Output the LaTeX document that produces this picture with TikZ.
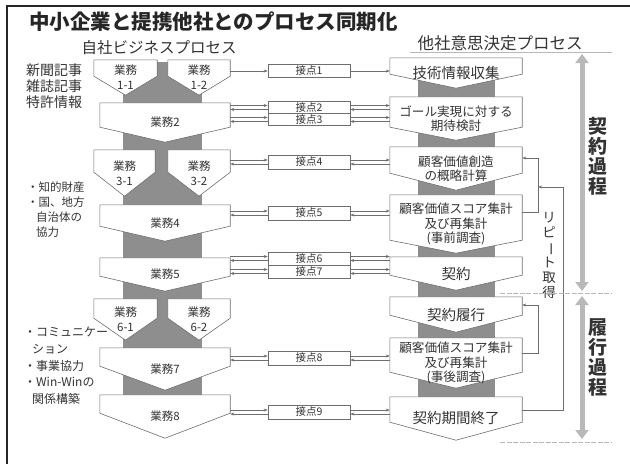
\documentclass[tikz,border=0pt]{standalone}
\usepackage{fontspec}
\usepackage{graphicx}
\setmainfont{Noto Sans CJK JP}
\usetikzlibrary{arrows.meta}
\pgfdeclarelayer{spinelayer}
\pgfdeclarelayer{shapelayer}
\pgfsetlayers{spinelayer,shapelayer,main}
\definecolor{ink}{HTML}{333333}
\definecolor{edge}{HTML}{6E6E6E}
\definecolor{spinegray}{HTML}{8E8E8E}
\definecolor{tlgray}{HTML}{B8B8B8}
\newcommand{\myfs}[2]{\fontsize{#1}{#2}\selectfont}
% [style]{name}{xl}{xr}{ytop}{yside}{ypoint}{text}
\newcommand{\pentbox}[8][]{%
  \pgfmathsetmacro\mybw{#4-#3}%
  \pgfmathsetmacro\mybh{#7-#5}%
  \pgfmathsetmacro\mybd{#7-#6}%
  \node[boxtext, minimum width=\mybw pt, minimum height=\mybh pt, #1] (#2) at ({(#3+#4)/2},{(#5+#7)/2}) {#8};
  \begin{pgfonlayer}{shapelayer}
    \draw[boxshape] (#2.north west) -- (#2.north east) -- ([yshift=\mybd pt]#2.south east) -- (#2.south) -- ([yshift=\mybd pt]#2.south west) -- cycle;
  \end{pgfonlayer}}
% left, mid, right, y
\newcommand{\linkpair}[4]{%
  \draw[arr] (#1.east |- 0,#4-2) -- (#2.west |- 0,#4-2);
  \draw[arr] (#2.west |- 0,#4+2) -- (#1.east |- 0,#4+2);
  \draw[arr] (#2.east |- 0,#4-2) -- (#3.west |- 0,#4-2);
  \draw[arr] (#3.west |- 0,#4+2) -- (#2.east |- 0,#4+2);}
\tikzset{
  boxtext/.style={inner sep=0pt, align=center, text=ink, font=\myfs{11.5}{15}},
  rtext/.style={font=\myfs{12.6}{14.5}},
  rbig/.style={font=\myfs{14.5}{16}},
  boxshape/.style={draw=edge, line width=0.6pt, fill=white},
  tp/.style={draw=edge, fill=white, line width=0.6pt, minimum width=82pt, inner sep=0pt, font=\myfs{10.5}{12}, text=ink},
  arr/.style={-{Stealth[length=4pt,width=3pt]}, draw=edge, line width=0.5pt},
  side/.style={anchor=north west, align=left, inner sep=0pt, text=ink},
  tline/.style={draw=tlgray, line width=0.8pt},
  bigarr/.style={draw=tlgray, line width=5pt, {Triangle[width=13pt,length=9pt]}-{Triangle[width=13pt,length=9pt]}},
  vlabel/.style={align=center, inner sep=0pt, text=ink, font=\bfseries\myfs{19}{20}}
}
\begin{document}
\begin{tikzpicture}[x=1pt,y=-1pt]
\useasboundingbox (0,0) rectangle (630,464);
\draw[line width=1.5pt, black!85] (7,464) -- (7,6) -- (630,6);

% titles
\node[anchor=west, inner sep=0pt, font=\bfseries\myfs{20.5}{22}, text=black!85] (title) at (29,22) {中小企業と提携他社とのプロセス同期化};
\node[inner sep=0pt, font=\myfs{15.5}{16}, text=ink] (hleft) at (159,48) {自社ビジネスプロセス};
\node[inner sep=0pt, font=\myfs{16.5}{17}, text=ink] (hright) at (500,43) {他社意思決定プロセス};

% side notes
\node[side, font=\myfs{14}{16}] (note1) at (26,64) {新聞記事\\雑誌記事\\特許情報};
\node[side, font=\myfs{11.5}{15}] (note2) at (27,182) {・知的財産\\・国、地方\\\hspace{9pt}自治体の\\\hspace{9pt}協力};
\node[side, font=\myfs{12}{16.7}] (note3) at (24,327) {・コミュニケー\\\hspace{8pt}ション\\・事業協力\\・Win-Winの\\\hspace{8pt}関係構築};

% spines
\begin{pgfonlayer}{spinelayer}
  \fill[spinegray] (123,62) rectangle (202,396);
  \fill[spinegray] (418,75) rectangle (495,398);
\end{pgfonlayer}

% left process
\pentbox{b11}{94}{157}{60}{76}{95}{業務\\1-1}
\pentbox{b12}{168}{230}{60}{76}{95}{業務\\1-2}
\pentbox{b2}{100}{230}{103}{127}{142}{業務2}
\pentbox{b31}{94}{155}{150}{172}{196}{業務\\3-1}
\pentbox{b32}{168}{230}{150}{172}{196}{業務\\3-2}
\pentbox{b4}{100}{230}{205}{226}{241}{業務4}
\pentbox{b5}{100}{230}{258}{276}{291}{業務5}
\pentbox{b61}{94}{157}{299}{318}{340}{業務\\6-1}
\pentbox{b62}{168}{230}{299}{318}{340}{業務\\6-2}
\pentbox{b7}{100}{230}{348}{366}{390}{業務7}
\pentbox{b8}{100}{230}{395}{413}{438}{業務8}

% right process
\pentbox[rbig]{r1}{390}{522}{58}{74}{88}{技術情報収集}
\pentbox[rtext]{r2}{390}{522}{97}{127}{140}{ゴール実現に対する\\期待検討}
\pentbox[rtext]{r3}{390}{522}{147}{173}{190}{顧客価値創造\\の概略計算}
\pentbox[rtext]{r4}{390}{522}{195}{240}{253}{顧客価値スコア集計\\及び再集計\\(事前調査)}
\pentbox[rbig]{r5}{390}{522}{257}{275}{290}{契約}
\pentbox[rbig]{r6}{390}{522}{297}{315}{332}{契約履行}
\pentbox[rtext]{r7}{390}{522}{338}{372}{388}{顧客価値スコア集計\\及び再集計\\(事後調査)}
\pentbox[rbig]{r8}{390}{522}{397}{422}{440}{契約期間終了}

% contact points
\node[tp, minimum height=13pt] (t1) at (309,71) {接点1};
\node[tp, minimum height=12pt] (t2) at (309,107.5) {接点2};
\node[tp, minimum height=12pt] (t3) at (309,119.5) {接点3};
\node[tp, minimum height=14pt] (t4) at (309,162) {接点4};
\node[tp, minimum height=14pt] (t5) at (309,213) {接点5};
\node[tp, minimum height=13pt] (t6) at (309,258.5) {接点6};
\node[tp, minimum height=13pt] (t7) at (309,271.5) {接点7};
\node[tp, minimum height=14pt] (t8) at (309,358) {接点8};
\node[tp, minimum height=14pt] (t9) at (309,412) {接点9};

% connectors
\draw[arr] (b12.east |- 0,71) -- (t1.west |- 0,71);
\draw[arr] (t1.east |- 0,71) -- (r1.west |- 0,71);
\linkpair{b2}{t2}{r2}{107.5}
\linkpair{b2}{t3}{r2}{119.5}
\linkpair{b32}{t4}{r3}{162}
\linkpair{b4}{t5}{r4}{213}
\linkpair{b5}{t6}{r5}{258.5}
\linkpair{b5}{t7}{r5}{271.5}
\linkpair{b7}{t8}{r7}{358}
\linkpair{b8}{t9}{r8}{412}

% feedback loops
\draw[arr] (r4.east |- 0,212) -- ++(16,0) |- (r3.east |- 0,158);
\draw[arr] (r7.east |- 0,353) -- ++(16,0) |- (r6.east |- 0,305);
\coordinate (join) at (538,187);
\draw[arr] (r8.east |- 0,410) -- ++(41,0) |- (join);
\node[align=center, inner sep=0pt, text=ink, font=\myfs{13.5}{15}] (repeat) at (549,255) {リ\\ピ\\\rotatebox[origin=c]{-90}{ー}\\ト\\取\\得};

% timeline
\draw[tline] (410,52) -- (612,52);
\draw[tline, dash pattern=on 5pt off 1.5pt] (500,293) -- (612,293);
\draw[tline, dash pattern=on 5pt off 1.5pt] (500,442) -- (612,442);
\draw[bigarr] (582,54) -- (582,291);
\draw[bigarr] (582,296) -- (582,439);
\node[vlabel] (phase1) at (598,156) {契\\約\\過\\程};
\node[vlabel] (phase2) at (598,357) {履\\行\\過\\程};
\end{tikzpicture}
\end{document}
